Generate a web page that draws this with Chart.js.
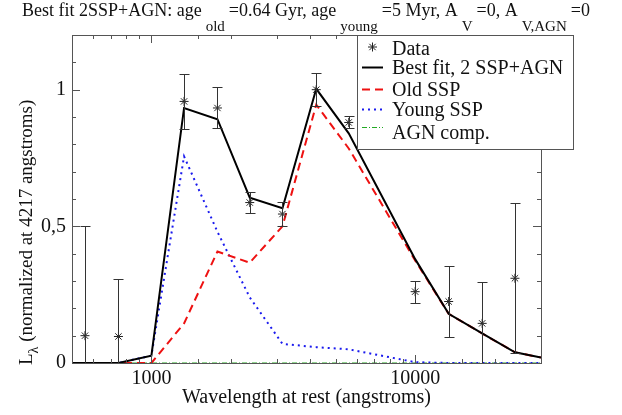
<!DOCTYPE html>
<html>
<head>
<meta charset="utf-8">
<script src="https://cdn.jsdelivr.net/npm/chart.js@4"></script>
<style>
  html, body { margin: 0; padding: 0; background: #ffffff; }
  #wrap { width: 622px; height: 415px; }
</style>
</head>
<body>
<div id="wrap"><canvas id="sed_chart" width="622" height="415"></canvas></div>
<script>
// observed photometry (wavelength in angstroms, normalized luminosity, error)
var dataWave = [560, 750, 1330, 1780, 2360, 3140, 4217, 5600, 10000, 13400, 17950, 23900];
var dataLum  = [0.10, 0.097, 0.957, 0.933, 0.587, 0.545, 1.0, 0.88, 0.261, 0.225, 0.145, 0.31];
var dataErr  = [0.40, 0.21, 0.10, 0.075, 0.04, 0.045, 0.06, 0.022, 0.04, 0.13, 0.15, 0.275];

// model grid
var modelWave = [500, 750, 1000, 1330, 1780, 2360, 3140, 4217, 5600, 10000, 13400, 17950, 23900, 30000];
var bestFit   = [0, 0, 0.027, 0.933, 0.892, 0.605, 0.566, 1.003, 0.84, 0.38, 0.18, 0.108, 0.039, 0.02];
var oldSSP    = [0, 0, 0, 0.145, 0.408, 0.367, 0.5, 0.945, 0.785, 0.375, 0.18, 0.108, 0.039, 0.02];
var youngSSP  = [0, 0, 0.027, 0.756, 0.48, 0.24, 0.07, 0.058, 0.05, 0.003, 0, 0, 0, 0];
var agnComp   = [0, 0, 0, 0, 0, 0, 0, 0, 0, 0, 0, 0, 0, 0];

var xLabels = [1000, 10000];
var yLabels = [0, 0.5, 1];
var legendNames = ["Data", "Best fit, 2 SSP+AGN", "Old SSP", "Young SSP", "AGN comp."];

var serif = "'Liberation Serif'";

function pairs(xs, ys){
  var out = [];
  for (var i = 0; i < xs.length; i++){
    out.push({x: xs[i], y: ys[i]});
  }
  return out;
}

function drawTicks(chart){
  var ctx = chart.ctx;
  var a = chart.chartArea;
  var xs = chart.scales.x, ys = chart.scales.y;
  ctx.save();
  ctx.strokeStyle = "#555555";
  ctx.lineWidth = 1;
  ctx.beginPath();
  xs.ticks.forEach(function(t){
    var px = Math.round(xs.getPixelForValue(t.value)) + 0.5;
    if (px < a.left + 1 || px > a.right - 1) return;
    var len = xLabels.indexOf(t.value) >= 0 ? 8 : 4;
    ctx.moveTo(px, a.bottom); ctx.lineTo(px, a.bottom - len);
    ctx.moveTo(px, a.top); ctx.lineTo(px, a.top + len);
  });
  ys.ticks.forEach(function(t){
    var py = Math.round(ys.getPixelForValue(t.value)) + 0.5;
    if (py < a.top + 1 || py > a.bottom - 1) return;
    var major = Math.abs(t.value * 2 - Math.round(t.value * 2)) < 1e-6;
    var len = major ? 8 : 4;
    ctx.moveTo(a.left, py); ctx.lineTo(a.left + len, py);
    ctx.moveTo(a.right, py); ctx.lineTo(a.right - len, py);
  });
  ctx.stroke();
  ctx.strokeRect(Math.round(a.left) + 0.5, Math.round(a.top) + 0.5, Math.round(a.right - a.left), Math.round(a.bottom - a.top));
  ctx.restore();
}

function drawErrorBars(chart){
  var ctx = chart.ctx;
  var a = chart.chartArea;
  var xs = chart.scales.x, ys = chart.scales.y;
  ctx.save();
  ctx.beginPath();
  ctx.rect(a.left, a.top, a.right - a.left, a.bottom - a.top);
  ctx.clip();
  ctx.strokeStyle = "#333333";
  ctx.lineWidth = 1;
  ctx.beginPath();
  for (var i = 0; i < dataWave.length; i++){
    var px = Math.round(xs.getPixelForValue(dataWave[i])) + 0.5;
    var yTop = Math.round(ys.getPixelForValue(dataLum[i] + dataErr[i])) + 0.5;
    var yBot = Math.round(ys.getPixelForValue(dataLum[i] - dataErr[i])) + 0.5;
    ctx.moveTo(px, yTop); ctx.lineTo(px, yBot);
    ctx.moveTo(px - 5, yTop); ctx.lineTo(px + 5, yTop);
    ctx.moveTo(px - 5, yBot); ctx.lineTo(px + 5, yBot);
  }
  ctx.stroke();
  ctx.restore();
}

// text with subscripts: list of [text, isSub], drawn from the left edge x
function drawRichText(ctx, parts, x, y, size, subSize, subShift, subPad){
  var cx = x;
  ctx.textAlign = "left";
  ctx.textBaseline = "alphabetic";
  for (var i = 0; i < parts.length; i++){
    var sub = parts[i][1];
    ctx.font = (sub ? subSize : size) + "px " + serif;
    if (sub) cx += subPad;
    ctx.fillText(parts[i][0], cx, y + (sub ? subShift : 0));
    cx += ctx.measureText(parts[i][0]).width;
    if (sub) cx += subPad;
  }
}

function drawTexts(chart){
  var ctx = chart.ctx;
  ctx.save();
  ctx.fillStyle = "#111111";
  drawRichText(ctx, [
    ["Best fit 2SSP+AGN: age", false], ["old", true], ["=0.64 Gyr, age", false], ["young", true],
    ["=5 Myr, A", false], ["V", true], ["=0, A", false], ["V,AGN", true], ["=0", false]
  ], 22, 16, 18, 15, 15, 4);

  ctx.translate(25, 365);
  ctx.rotate(-Math.PI / 2);
  drawRichText(ctx, [["L", false], ["\u03bb", true], [" (normalized at 4217 angstroms)", false]], 0, 7, 19, 14, 6, 0);
  ctx.restore();
}

function drawLegend(chart){
  var ctx = chart.ctx;
  var bx = 357.5, by = 35.5, bw = 216, bh = 114;
  ctx.save();
  ctx.fillStyle = "#ffffff";
  ctx.fillRect(bx, by, bw, bh);
  ctx.strokeStyle = "#555555";
  ctx.lineWidth = 1;
  ctx.strokeRect(bx, by, bw, bh);

  var symY = [47, 67.5, 89.5, 109.5, 127.5];
  var txtY = [55, 74, 96, 116, 139];
  var ds = chart.data.datasets;
  // data star
  ctx.strokeStyle = "#222222";
  Chart.helpers.drawPoint(ctx, {pointStyle: "star", radius: 4.5, borderWidth: 1}, 372.5, symY[0]);
  for (var i = 1; i < 5; i++){
    var d = ds[i];
    ctx.beginPath();
    ctx.setLineDash(d.borderDash || []);
    ctx.strokeStyle = d.borderColor;
    ctx.lineWidth = d.borderWidth;
    ctx.moveTo(362, symY[i]);
    ctx.lineTo(383, symY[i]);
    ctx.stroke();
  }
  ctx.setLineDash([]);
  ctx.fillStyle = "#111111";
  ctx.font = "20px " + serif;
  ctx.textAlign = "left";
  ctx.textBaseline = "alphabetic";
  for (var j = 0; j < legendNames.length; j++){
    ctx.fillText(legendNames[j], 392, txtY[j]);
  }
  ctx.restore();
}

function load(){
  var decor = {
    id: "decor",
    afterDatasetsDraw: function(chart){
      drawErrorBars(chart);
      drawTicks(chart);
    },
    afterDraw: function(chart){
      drawLegend(chart);
      drawTexts(chart);
    }
  };

  var config = {
    type: "line",
    data: {
      datasets: [{
          label: legendNames[0],
          data: pairs(dataWave, dataLum),
          showLine: false,
          pointStyle: "star",
          pointRadius: 4.5,
          pointBorderWidth: 1,
          pointBorderColor: "#222222",
          borderColor: "#222222",
          order: 0
        }, {
          label: legendNames[1],
          data: pairs(modelWave, bestFit),
          borderColor: "#000000",
          borderWidth: 2,
          pointRadius: 0,
          order: 1
        }, {
          label: legendNames[2],
          data: pairs(modelWave, oldSSP),
          borderColor: "#ee1111",
          borderWidth: 2,
          borderDash: [8, 5],
          pointRadius: 0,
          order: 2
        }, {
          label: legendNames[3],
          data: pairs(modelWave, youngSSP),
          borderColor: "#1a1aee",
          borderWidth: 2,
          borderDash: [2, 4],
          pointRadius: 0,
          order: 3
        }, {
          label: legendNames[4],
          data: pairs(modelWave, agnComp),
          borderColor: "#22aa22",
          borderWidth: 1,
          borderDash: [5, 2, 1, 2],
          pointRadius: 0,
          order: 4
        }]
    },
    options: {
      responsive: false,
      animation: false,
      layout: { padding: { top: 35, right: 81, left: 0, bottom: 0 } },
      elements: { line: { tension: 0 } },
      plugins: {
        legend: { display: false },
        tooltip: { enabled: false }
      },
      scales: {
        x: {
          type: "logarithmic",
          min: 500,
          max: 30000,
          grid: { display: false, drawTicks: false },
          border: { display: false },
          afterFit: function(s){ s.height = 52; },
          ticks: {
            autoSkip: false,
            maxRotation: 0,
            padding: 4,
            color: "#111111",
            font: { family: serif, size: 20 },
            callback: function(v){ return xLabels.indexOf(v) >= 0 ? String(v) : ""; }
          },
          title: {
            display: true,
            text: "Wavelength at rest (angstroms)",
            color: "#111111",
            font: { family: serif, size: 20 },
            padding: { top: 0, bottom: 5 }
          }
        },
        y: {
          min: 0,
          max: 1.2,
          grid: { display: false, drawTicks: false },
          border: { display: false },
          afterFit: function(s){ s.width = 72; },
          ticks: {
            stepSize: 0.1,
            padding: 6,
            color: "#111111",
            font: { family: serif, size: 20 },
            callback: function(v){
              for (var i = 0; i < yLabels.length; i++){
                if (Math.abs(v - yLabels[i]) < 1e-6) return String(yLabels[i]).replace(".", ",");
              }
              return "";
            }
          }
        }
      }
    },
    plugins: [decor]
  };

  new Chart(document.getElementById("sed_chart").getContext("2d"), config);
}

document.addEventListener("DOMContentLoaded", load, false);
</script>
</body>
</html>
